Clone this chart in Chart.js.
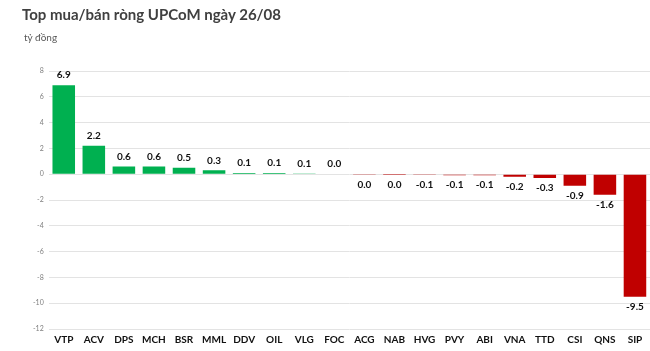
<!DOCTYPE html>
<html lang="vi">
<head>
<meta charset="UTF-8">
<script src="https://cdn.jsdelivr.net/npm/chart.js@4.4.1/dist/chart.umd.min.js"></script>
<style>
  html, body { margin: 0; padding: 0; background: #fff; overflow: hidden; }
  .wrap { position: relative; width: 650px; height: 351px; }
  canvas { display: block; }
  .title { position: absolute; left: 22px; top: 5px; font: bold 15px "Lato", sans-serif; color: #404040; }
  .unit { position: absolute; left: 24px; top: 31px; font: 10px "Lato", sans-serif; color: #595959; }
</style>
</head>
<body>
<div class="wrap">
  <div class="title">Top mua/bán ròng UPCoM ngày 26/08</div>
  <div class="unit">tỷ đồng</div>
  <canvas id="chart" width="650" height="351"></canvas>
</div>
<script>
// data
var tickers = ['VTP', 'ACV', 'DPS', 'MCH', 'BSR', 'MML', 'DDV', 'OIL', 'VLG', 'FOC',
               'ACG', 'NAB', 'HVG', 'PVY', 'ABI', 'VNA', 'TTD', 'CSI', 'QNS', 'SIP'];
var netValues = [6.9, 2.2, 0.6, 0.6, 0.5, 0.3, 0.1, 0.1, 0.06, 0.03,
                 -0.02, -0.01, -0.06, -0.08, -0.08, -0.2, -0.3, -0.9, -1.6, -9.5];
var yTicks = [8, 6, 4, 2, 0, -2, -4, -6, -8, -10, -12];

var GREEN = '#00B050', RED = '#C00000';

// value labels above / below bars
var valueLabels = {
    id: 'valueLabels',
    afterDatasetsDraw: function (chart) {
        var ctx = chart.ctx;
        var meta = chart.getDatasetMeta(0);
        ctx.save();
        ctx.font = 'bold 10px "Lato", sans-serif';
        ctx.fillStyle = '#111';
        ctx.textAlign = 'center';
        ctx.textBaseline = 'middle';
        meta.data.forEach(function (bar, i) {
            var v = netValues[i];
            var s = v.toFixed(1);
            if (s === '-0.0') s = '0.0';
            var y = v >= 0 ? bar.y - 10 : bar.y + 10;
            ctx.fillText(s, bar.x, y);
        });
        ctx.restore();
    }
};

var ctx = document.getElementById('chart').getContext('2d');
var chart = new Chart(ctx, {
    type: 'bar',
    data: {
        labels: tickers,
        datasets: [{
            data: netValues,
            backgroundColor: netValues.map(function (v) { return v >= 0 ? GREEN : RED; }),
            borderWidth: 0,
            categoryPercentage: 1,
            barPercentage: 0.75
        }]
    },
    options: {
        responsive: false,
        animation: false,
        layout: { padding: { top: 71, left: 28, right: 0, bottom: 0 } },
        plugins: {
            legend: { display: false },
            tooltip: { enabled: false }
        },
        scales: {
            x: {
                grid: { display: false, drawTicks: false },
                border: { display: false },
                ticks: {
                    color: '#111',
                    font: { family: 'Lato', size: 10, weight: 'bold', lineHeight: 1 },
                    maxRotation: 0,
                    autoSkip: false,
                    padding: 6
                }
            },
            y: {
                min: -12,
                max: 8,
                afterBuildTicks: function (axis) {
                    axis.ticks = yTicks.map(function (v) { return { value: v }; });
                },
                grid: { color: '#e3e3e3', drawTicks: false },
                border: { display: false },
                ticks: {
                    autoSkip: false,
                    color: '#7f7f7f',
                    font: { family: 'Lato', size: 7 },
                    padding: 5
                }
            }
        }
    },
    plugins: [valueLabels]
});
</script>
</body>
</html>
